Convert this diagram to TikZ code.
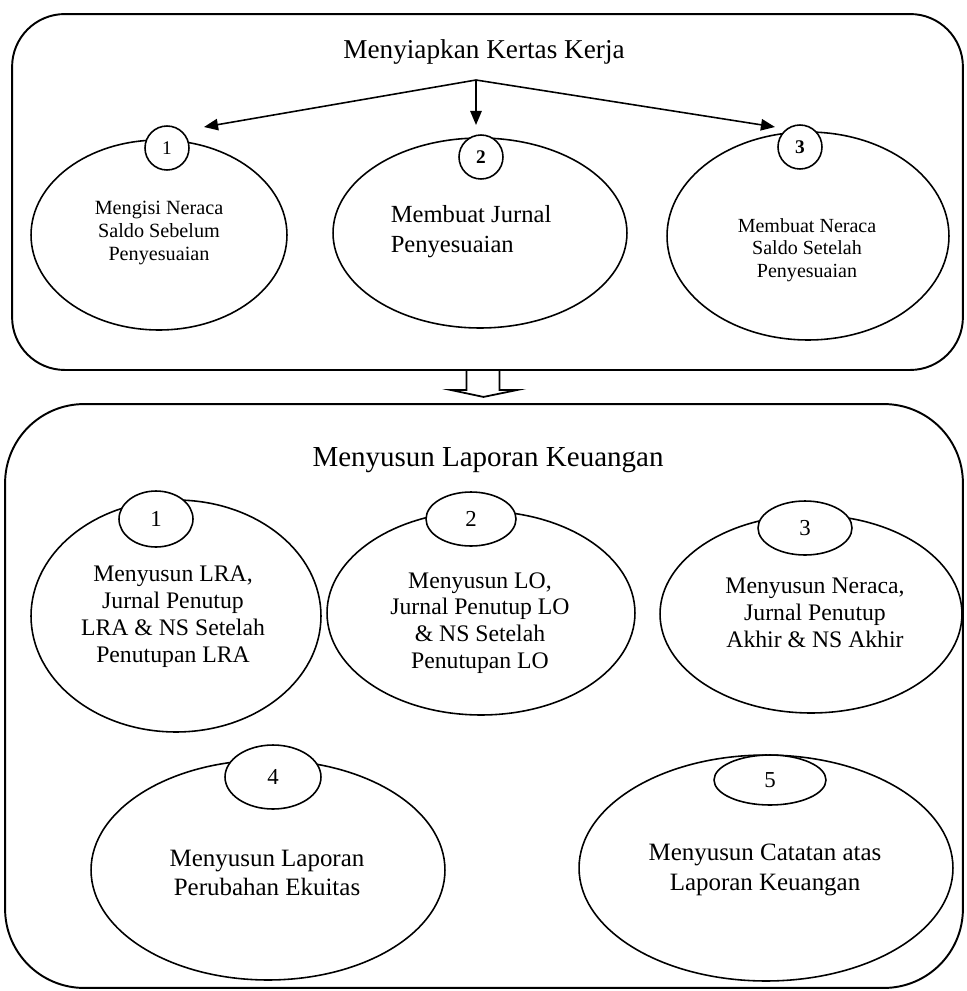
\documentclass[tikz,border=0pt]{standalone}
\usepackage{fontspec}
\setmainfont{Liberation Serif}
\usetikzlibrary{arrows.meta,shapes.geometric}

\begin{document}
\begin{tikzpicture}[x=0.02cm,y=-0.02cm,line width=0.9pt,>={Triangle[length=8pt,width=6.5pt]},
oval/.style={draw, ellipse, inner sep=0pt},
num/.style={draw, ellipse, fill=white, inner sep=0pt},
txt/.style={align=center, inner sep=0pt}]
\useasboundingbox (0,0) rectangle (967,991);
\node [draw, line width=1.1pt, rounded corners=30pt, minimum width=19.02cm, minimum height=7.12cm] (kotak1) at (487.5,192) {};
\node [draw, line width=1.1pt, rounded corners=45pt, minimum width=19.16cm, minimum height=11.68cm] (kotak2) at (484,696) {};
\draw [line width=1pt] (kotak1.south) ++(-21,0) -- ++(0,19) -- ++(-16,0) -- ++(33,7) -- ++(34,-7) -- ++(-18,0) -- ++(0,-19);

\node [font=\fontsize{15.5}{18}\selectfont] (judul1) at (484,52) {Menyiapkan Kertas Kerja};
\coordinate (cabang) at (476,80);
\coordinate (ujung1) at (204,127);
\coordinate (ujung2) at (476,125);
\coordinate (ujung3) at (775,127);
\draw [->] (cabang) -- (ujung1);
\draw [->] (cabang) -- (ujung2);
\draw [->] (cabang) -- (ujung3);

\node [oval, minimum width=5.12cm, minimum height=3.8cm] (isi1) at (159,235) {};
\node [oval, minimum width=5.88cm, minimum height=3.8cm] (isi2) at (480,233) {};
\node [oval, minimum width=5.64cm, minimum height=4.16cm] (isi3) at (808,236) {};
\node [num, minimum size=0.88cm, font=\fontsize{11}{13}\selectfont] (no1) at (167,148) {1};
\node [num, minimum size=0.88cm, font=\fontsize{11}{13}\selectfont\bfseries] (no2) at (481,157) {2};
\node [num, minimum size=0.88cm, font=\fontsize{11}{13}\selectfont\bfseries] (no3) at (800,147) {3};
\node [txt, font=\fontsize{11.5}{13}\selectfont] (teks1) at (159,233) {Mengisi Neraca\\Saldo Sebelum\\Penyesuaian};
\node [txt, align=left, anchor=west, font=\fontsize{14}{17}\selectfont] (teks2) at (390,232) {Membuat Jurnal\\Penyesuaian};
\node [txt, font=\fontsize{11.4}{12.8}\selectfont] (teks3) at (807,250) {Membuat Neraca\\Saldo Setelah\\Penyesuaian};

\node [font=\fontsize{16.5}{19}\selectfont] (judul2) at (488,460) {Menyusun Laporan Keuangan};

\node [oval, minimum width=5.8cm, minimum height=4.64cm] (lap1) at (176,616) {};
\node [oval, minimum width=6.16cm, minimum height=4.08cm] (lap2) at (481,613) {};
\node [oval, minimum width=6.04cm, minimum height=3.96cm] (lap3) at (811,614) {};
\node [oval, minimum width=7.08cm, minimum height=4.4cm] (lap4) at (268,870) {};
\node [oval, minimum width=7.48cm, minimum height=4.52cm] (lap5) at (766,868) {};
\node [num, minimum width=1.48cm, minimum height=1.12cm, font=\fontsize{13}{15}\selectfont] (nl1) at (156,519) {1};
\node [num, minimum width=1.8cm, minimum height=1.08cm, font=\fontsize{13}{15}\selectfont] (nl2) at (471,519) {2};
\node [num, minimum width=1.88cm, minimum height=1.08cm, font=\fontsize{13}{15}\selectfont] (nl3) at (805,528) {3};
\node [num, minimum width=1.92cm, minimum height=1.28cm, font=\fontsize{13}{15}\selectfont] (nl4) at (273,777) {4};
\node [num, minimum width=2.24cm, minimum height=1.0cm, font=\fontsize{13}{15}\selectfont] (nl5) at (770,780) {5};
\node [txt, font=\fontsize{13.5}{15.3}\selectfont] (tl1) at (173,617) {Menyusun LRA,\\Jurnal Penutup\\LRA \& NS Setelah\\Penutupan LRA};
\node [txt, font=\fontsize{13.5}{15.3}\selectfont] (tl2) at (480,623) {Menyusun LO,\\Jurnal Penutup LO\\\& NS Setelah\\Penutupan LO};
\node [txt, font=\fontsize{13.5}{15.3}\selectfont] (tl3) at (815,613) {Menyusun Neraca,\\Jurnal Penutup\\Akhir \& NS Akhir};
\node [txt, font=\fontsize{14.2}{17}\selectfont] (tl4) at (267,873) {Menyusun Laporan\\Perubahan Ekuitas};
\node [txt, font=\fontsize{14.2}{17}\selectfont] (tl5) at (765,870) {Menyusun Catatan atas\\Laporan Keuangan};
\end{tikzpicture}
\end{document}
